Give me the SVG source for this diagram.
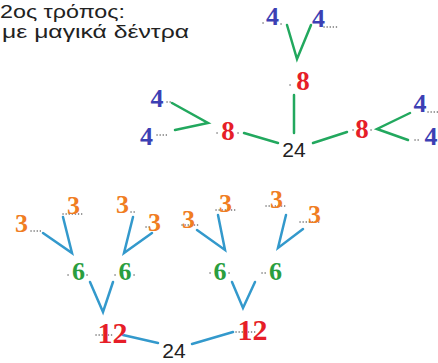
<svg xmlns="http://www.w3.org/2000/svg" width="438" height="363" viewBox="0 0 438 363">
<style>
.title{font-family:"Liberation Sans","DejaVu Sans",sans-serif;font-size:19px;fill:#222}
.d{font-family:"Liberation Serif","DejaVu Serif",serif;font-weight:bold;text-anchor:middle}
.four{font-size:26px;fill:#3c3fb4}
.eight{font-size:27px;fill:#e61e28}
.three{font-size:26px;fill:#f07d22}
.six{font-size:26px;fill:#2a9e3e}
.twelve{font-size:30px;fill:#e61e28}
.sum{font-family:"Liberation Sans","DejaVu Sans",sans-serif;font-size:21px;fill:#222;text-anchor:middle}
.g{stroke:#22a85e;stroke-width:2.5;fill:none;stroke-linecap:round}
.b{stroke:#3399cc;stroke-width:2.5;fill:none;stroke-linecap:round}
.dots{stroke:#666;stroke-width:1.5;stroke-dasharray:0.1 3;stroke-linecap:round;fill:none}
</style>
<rect width="438" height="363" fill="#fff"/>
<g id="title">
<text class="title" x="0" y="18" textLength="125" lengthAdjust="spacingAndGlyphs">2ος τρόπος:</text>
<text class="title" x="2" y="38" textLength="187" lengthAdjust="spacingAndGlyphs">με μαγικά δέντρα</text>
</g>
<g id="connectors">
<path class="g" d="M287,25 L297,59 L311,25"/>
<path class="g" d="M294,95 L294,133"/>
<path class="g" d="M172,103 L208,123 L175,130"/>
<path class="g" d="M244,133 L278,143"/>
<path class="g" d="M313,143 L347,132"/>
<path class="g" d="M410,113 L377,129 L408,140"/>
<path class="b" d="M43,233 L72,253 L63,217"/>
<path class="b" d="M133,217 L124,253 L152,233"/>
<path class="b" d="M197,230 L225,250 L218,215"/>
<path class="b" d="M286,215 L278,248 L303,229"/>
<path class="b" d="M90,282 L103,312 L113,282"/>
<path class="b" d="M232,282 L243,308 L255,282"/>
<path class="b" d="M123,335 L158,343"/>
<path class="b" d="M192,344 L233,332"/>
</g>
<g id="placeholders">
<path class="dots" d="M263,23 h1 M281,24 h3 M324,27 h14 M290,85 h1 M217,133 h1 M238,133 h1 M167,102 h6 M157,135 h11 M353,130 h1 M371,130 h1 M428,112 h10 M415,140 h6"/>
<path class="dots" d="M31,231 h10 M63,214 h19 M131,212 h6 M146,227 h6 M182,225 h16 M216,210 h20 M266,206 h20 M300,222 h20"/>
<path class="dots" d="M68,275 h3 M87,275 h3 M115,275 h3 M134,275 h3 M210,273 h3 M229,273 h3 M262,273 h6 M96,335 h16 M236,332 h19"/>
</g>
<g id="n4a"><text class="d four" x="272.5" y="25">4</text></g>
<g id="n4b"><text class="d four" x="318.5" y="27">4</text></g>
<g id="n8top"><text class="d eight" x="303" y="90">8</text></g>
<g id="n24top"><text class="sum" x="294" y="157">24</text></g>
<g id="n8left"><text class="d eight" x="228" y="140">8</text></g>
<g id="n4lt"><text class="d four" x="157" y="107">4</text></g>
<g id="n4lb"><text class="d four" x="146.5" y="145">4</text></g>
<g id="n8right"><text class="d eight" x="362" y="138">8</text></g>
<g id="n4rt"><text class="d four" x="420" y="112">4</text></g>
<g id="n4rb"><text class="d four" x="431" y="145">4</text></g>
<g id="n3a"><text class="d three" x="21.5" y="232">3</text></g>
<g id="n3b"><text class="d three" x="73.5" y="214">3</text></g>
<g id="n3c"><text class="d three" x="122.5" y="213">3</text></g>
<g id="n3d"><text class="d three" x="154.5" y="231">3</text></g>
<g id="n3e"><text class="d three" x="188.5" y="228">3</text></g>
<g id="n3f"><text class="d three" x="225.5" y="212">3</text></g>
<g id="n3g"><text class="d three" x="276.5" y="208">3</text></g>
<g id="n3h"><text class="d three" x="314.5" y="223">3</text></g>
<g id="n6a"><text class="d six" x="78.5" y="280">6</text></g>
<g id="n6b"><text class="d six" x="125" y="280">6</text></g>
<g id="n6c"><text class="d six" x="220" y="280">6</text></g>
<g id="n6d"><text class="d six" x="275.5" y="280">6</text></g>
<g id="n12a"><text class="d twelve" x="112.5" y="343">12</text></g>
<g id="n12b"><text class="d twelve" x="252.5" y="340">12</text></g>
<g id="n24bottom"><text class="sum" x="174" y="358">24</text></g>
</svg>
